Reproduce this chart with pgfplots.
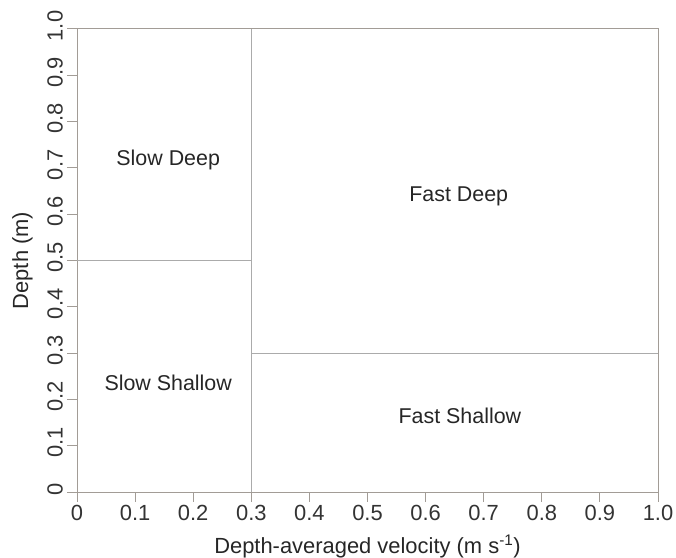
\documentclass[border=0pt]{standalone}
\usepackage{pgfplots}
\pgfplotsset{compat=1.18}
\usepackage{fontspec}
\setmainfont{Liberation Sans}
\usetikzlibrary{calc}
\definecolor{axgray}{HTML}{A29C96}
\definecolor{lngray}{HTML}{ABABAB}
\begin{document}
\begin{tikzpicture}
\begin{axis}[
  name=ax,
  scale only axis,
  width=581bp, height=463bp,
  xmin=0, xmax=1, ymin=0, ymax=1,
  axis line style={axgray, line width=1pt},
  tick style={axgray, line width=1pt},
  tick align=outside,
  major tick length=10bp,
  xtick={0,0.1,0.2,0.3,0.4,0.5,0.6,0.7,0.8,0.9,1.0},
  xticklabels={0,0.1,0.2,0.3,0.4,0.5,0.6,0.7,0.8,0.9,1.0},
  ytick={0,0.1,0.2,0.3,0.4,0.5,0.6,0.7,0.8,0.9,1.0},
  yticklabels={0,0.1,0.2,0.3,0.4,0.5,0.6,0.7,0.8,0.9,1.0},
  xtick pos=bottom, ytick pos=left,
  ticklabel style={font=\fontsize{22}{26}\selectfont, text=black!80, inner sep=0pt},
  xticklabel style={anchor=north, yshift=-3bp},
  yticklabel style={rotate=90, anchor=south, xshift=3bp, yshift=4bp},
  xlabel={Depth-averaged velocity (m s\textsuperscript{-1})},
  ylabel={Depth (m)},
  label style={font=\fontsize{22}{26}\selectfont, text=black!85},
  xlabel style={at={(axis description cs:0.5,-0.1318)}, anchor=base},
  ylabel style={at={(axis description cs:-0.0843,0.5)}, anchor=base, rotate=0},
  clip=false,
]
\addplot[lngray, line width=1pt] coordinates {(0.3,0) (0.3,1)};
\addplot[lngray, line width=1pt] coordinates {(0,0.5) (0.3,0.5)};
\addplot[lngray, line width=1pt] coordinates {(0.3,0.3) (1,0.3)};
\node[font=\fontsize{21.5}{25}\selectfont, text=black!85] at (axis cs:0.157,0.717) {Slow Deep};
\node[font=\fontsize{21.5}{25}\selectfont, text=black!85] at (axis cs:0.657,0.639) {Fast Deep};
\node[font=\fontsize{21.5}{25}\selectfont, text=black!85] at (axis cs:0.157,0.235) {Slow Shallow};
\node[font=\fontsize{21.5}{25}\selectfont, text=black!85] at (axis cs:0.659,0.164) {Fast Shallow};
\end{axis}
\pgfresetboundingbox
\path[use as bounding box] ($(ax.south west)+(-77bp,-66bp)$) rectangle ($(ax.north east)+(18bp,29bp)$);
\end{tikzpicture}
\end{document}
